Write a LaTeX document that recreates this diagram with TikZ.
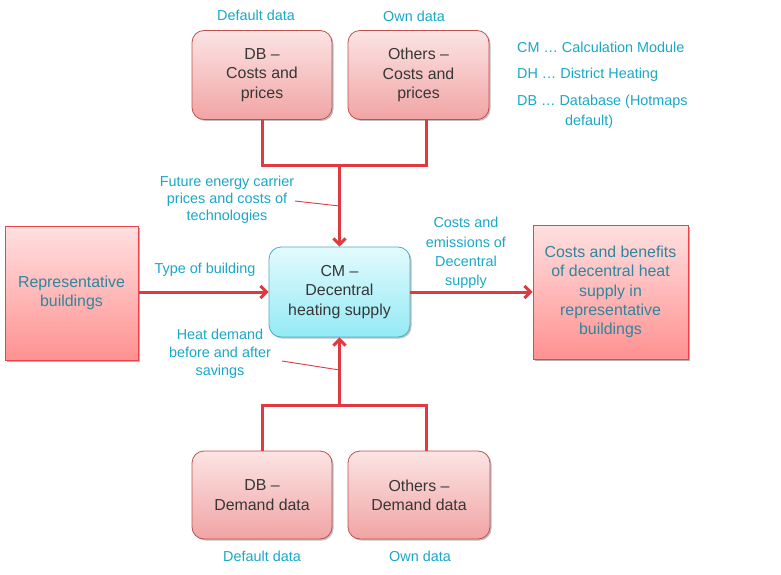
\documentclass[tikz,border=0pt]{standalone}
\usepackage{fontspec}
\setmainfont{Liberation Sans}
\usetikzlibrary{arrows.meta,shadows,calc}
\definecolor{rtop}{RGB}{252,228,228}
\definecolor{rbot}{RGB}{241,164,164}
\definecolor{rline}{RGB}{192,80,77}
\definecolor{stop}{RGB}{255,224,224}
\definecolor{sbot}{RGB}{255,145,145}
\definecolor{sline}{RGB}{232,68,74}
\definecolor{ctop}{RGB}{227,251,253}
\definecolor{cbot}{RGB}{147,234,245}
\definecolor{cline}{RGB}{75,172,198}
\definecolor{conn}{RGB}{224,58,64}
\definecolor{lblc}{RGB}{25,168,200}
\definecolor{stext}{RGB}{49,133,156}
\definecolor{btext}{RGB}{55,55,55}
\newcommand{\boxfont}{\fontsize{15.9}{19.3}\selectfont}
\newcommand{\lblfont}{\fontsize{14.4}{18}\selectfont}
\begin{document}
\begin{tikzpicture}[x=1pt,y=-1pt,
  rbox/.style={draw=rline, line width=0.8pt, rounded corners=12pt, top color=rtop, bottom color=rbot,
    minimum width=140pt, minimum height=89pt, align=center, text=btext, font=\boxfont, inner sep=2pt,
    drop shadow={shadow xshift=1.5pt, shadow yshift=-1.5pt, opacity=0.25, fill=black}},
  sbox/.style={draw=sline, line width=1pt, top color=stop, bottom color=sbot,
    minimum height=134pt, align=center, text=stext, font=\boxfont, inner sep=2pt,
    drop shadow={shadow xshift=2pt, shadow yshift=-2pt, opacity=0.3, fill=black}},
  cbox/.style={draw=cline, line width=0.8pt, rounded corners=12pt, top color=ctop, bottom color=cbot,
    minimum width=141pt, minimum height=90pt, align=center, text=btext, font=\boxfont, inner sep=2pt,
    drop shadow={shadow xshift=1.5pt, shadow yshift=-1.5pt, opacity=0.25, fill=black}},
  lbl/.style={text=lblc, font=\lblfont, align=center, inner sep=0pt},
  leg/.style={text=lblc, font=\lblfont, align=left, inner sep=0pt, anchor=west},
  conline/.style={draw=conn, line width=3pt},
  conarrow/.style={draw=conn, line width=3pt, -{Straight Barb[length=6pt,width=12pt,line width=3pt]}},
  ptr/.style={draw=conn, line width=0.9pt}
]
\useasboundingbox (0,0) rectangle (781,575);
\fill[white] (0,0) rectangle (781,575);

% boxes
\node[rbox] (dbtop) at (262,75) {DB --\\Costs and\\prices};
\node[rbox, minimum width=141pt] (othtop) at (418.5,75) {Others --\\Costs and\\prices};
\node[cbox] (cm) at (339.5,292) {CM --\\Decentral\\heating supply};
\node[sbox, minimum width=133pt] (rep) at (71.5,293) {Representative\\buildings};
\node[sbox, minimum width=155pt] (res) at (610.5,292) {Costs and benefits\\of decentral heat\\supply in\\representative\\buildings};
\node[rbox, minimum height=88pt] (dbbot) at (262,495) {DB --\\Demand data};
\node[rbox, minimum width=142pt, minimum height=88pt] (othbot) at (419,495) {Others --\\Demand data};

% labels
\node[lbl] (deftop) at (256,15) {Default data};
\node[lbl] (owntop) at (414,16) {Own data};
\node[lbl] (defbot) at (262,556) {Default data};
\node[lbl] (ownbot) at (420,556) {Own data};
\node[lbl, font=\fontsize{14.4}{17}\selectfont] (fut) at (227,200) {Future energy carrier\\prices and costs of\\technologies};
\node[lbl] (tob) at (205,270) {Type of building};
\node[lbl, font=\fontsize{14.4}{19.3}\selectfont] (cae) at (466,253) {Costs and\\emissions of\\Decentral\\supply};
\node[lbl] (hd) at (220,354) {Heat demand\\before and after\\savings};

% legend
\node[leg] (leg1) at (517,47) {CM … Calculation Module};
\node[leg] (leg2) at (517,75) {DH … District Heating};
\node[leg] (leg3) at (517,102) {DB … Database (Hotmaps};
\node[leg] (leg4) at (565,122) {default)};

% connectors
\coordinate (jt) at (339.5,165);
\coordinate (jb) at (339.5,405);
\draw[conline, line join=miter] (dbtop.south) |- (jt) -| ([xshift=7.5pt]othtop.south);
\draw[conarrow] (jt) -- (cm.north);
\draw[conline, line join=miter] (dbbot.north) |- (jb) -| ([xshift=7pt]othbot.north);
\draw[conarrow] (jb) -- (cm.south);
\draw[conarrow] (rep.east |- cm.east) -- (cm.west);
\draw[conarrow] (cm.east) -- (res.west |- cm.east);

% pointer lines
\coordinate (p1a) at (295,201);
\coordinate (p1b) at (339.5,206);
\coordinate (p2a) at (282,361);
\coordinate (p2b) at (339.5,370);
\draw[ptr] (p1a) -- (p1b);
\draw[ptr] (p2a) -- (p2b);
\end{tikzpicture}
\end{document}
